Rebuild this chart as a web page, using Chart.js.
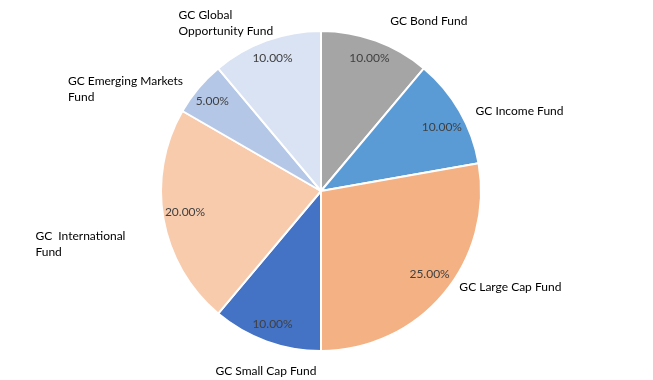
<!DOCTYPE html>
<html>
<head>
<meta charset="utf-8">
<script src="https://cdn.jsdelivr.net/npm/chart.js@4/dist/chart.umd.min.js"></script>
<style>
  html, body { margin: 0; padding: 0; background: #ffffff; }
  #wrap { width: 653px; height: 380px; position: relative; }
</style>
</head>
<body>
<div id="wrap"><canvas id="c" width="653" height="380"></canvas></div>
<script>
// ---- data ----
const categories = [
  ["GC Bond Fund"],
  ["GC Income Fund"],
  ["GC Large Cap Fund"],
  ["GC Small Cap Fund"],
  ["GC  International", "Fund"],
  ["GC Emerging Markets", "Fund"],
  ["GC Global", "Opportunity Fund"]
];
const values = [10, 10, 25, 10, 20, 5, 10];
const valueLabels = ["10.00%", "10.00%", "25.00%", "10.00%", "20.00%", "5.00%", "10.00%"];
const colors = ["#A5A5A5", "#5B9BD5", "#F4B183", "#4472C4", "#F8CBAD", "#B4C7E7", "#DAE3F3"];

// ---- label placement (presentation only): angle nudge (deg from slice middle) and radius factor ----
const pctPlacement = [
  { da: 0, rf: 0.88 }, { da: 2, rf: 0.85 }, { da: -2.5, rf: 0.85 }, { da: 0, rf: 0.88 },
  { da: 1, rf: 0.855 }, { da: -0.5, rf: 0.875 }, { da: 0, rf: 0.88 }
];
const catPlacement = [
  { da: 12.4, rf: 1.25 }, { da: 8, rf: 1.33 }, { da: -13, rf: 1.32 }, { da: -3, rf: 1.17 },
  { da: -2.4, rf: 1.53 }, { da: -12.4, rf: 1.37 }, { da: -9.5, rf: 1.2 }
];

const FONT = "Lato, 'Open Sans', sans-serif";

const labelPlugin = {
  id: 'pieLabels',
  afterDatasetsDraw(chart) {
    const ctx = chart.ctx;
    const meta = chart.getDatasetMeta(0);
    ctx.save();
    meta.data.forEach((arc, i) => {
      const p = arc.getProps(['x', 'y', 'startAngle', 'endAngle', 'outerRadius'], true);
      const R = p.outerRadius + 1;
      const mid = (p.startAngle + p.endAngle) / 2;
      // percent label
      const a1 = mid + pctPlacement[i].da * Math.PI / 180;
      const x1 = p.x + Math.cos(a1) * R * pctPlacement[i].rf;
      const y1 = p.y + Math.sin(a1) * R * pctPlacement[i].rf;
      ctx.font = "12px " + FONT;
      ctx.fillStyle = "#404040";
      ctx.textAlign = "center";
      ctx.textBaseline = "middle";
      ctx.fillText(valueLabels[i], x1, y1);
      // category label
      const a2 = mid + catPlacement[i].da * Math.PI / 180;
      const x2 = p.x + Math.cos(a2) * R * catPlacement[i].rf;
      const y2 = p.y + Math.sin(a2) * R * catPlacement[i].rf;
      const lines = categories[i];
      ctx.fillStyle = "#000000";
      const lh = 16;
      const w = Math.max(...lines.map(l => ctx.measureText(l).width));
      const left = x2 - w / 2;
      const top = y2 - (lines.length - 1) * lh / 2;
      ctx.textAlign = lines.length > 1 ? "left" : "center";
      lines.forEach((l, k) => {
        ctx.fillText(l, lines.length > 1 ? left : x2, top + k * lh);
      });
    });
    ctx.restore();
  }
};

new Chart(document.getElementById('c'), {
  type: 'pie',
  data: {
    labels: categories.map(c => c.join(' ')),
    datasets: [{
      data: values,
      backgroundColor: colors,
      borderColor: '#ffffff',
      borderWidth: 2
    }]
  },
  options: {
    responsive: false,
    animation: false,
    layout: { padding: { top: 30, bottom: 28, left: 0, right: 11 } },
    plugins: {
      legend: { display: false },
      tooltip: { enabled: false }
    }
  },
  plugins: [labelPlugin]
});
</script>
</body>
</html>
